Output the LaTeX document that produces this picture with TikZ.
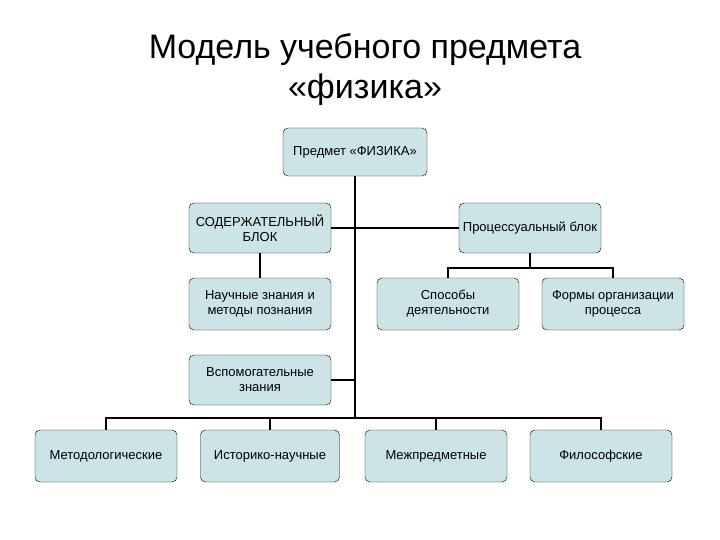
\documentclass[tikz,border=0pt]{standalone}
\usepackage{fontspec}
\setmainfont{Liberation Sans}
\begin{document}
\begin{tikzpicture}[x=1pt,y=-1pt,
 box/.style={draw=black,fill=boxc,rounded corners=5pt,minimum width=142pt,minimum height=50pt,align=center,font=\fontsize{13}{15}\selectfont,inner sep=0pt},
 ln/.style={line width=2pt}]
\definecolor{boxc}{RGB}{204,228,230}
\useasboundingbox (0,0) rectangle (720,540);
\node[font=\fontsize{34}{40}\selectfont,align=center] (t) at (365,70) {Модель учебного предмета\\«физика»};
\node[box,minimum width=144pt,minimum height=48pt] (top) at (355,152) {Предмет «ФИЗИКА»};
\node[box] (sod) at (260,228) {СОДЕРЖАТЕЛЬНЫЙ\\БЛОК};
\node[box] (pro) at (530,228) {Процессуальный блок};
\node[box,minimum height=52pt] (nau) at (260,304) {Научные знания и\\методы познания};
\node[box,minimum height=52pt] (spo) at (448,304) {Способы\\деятельности};
\node[box,minimum height=52pt] (for) at (613,304) {Формы организации\\процесса};
\node[box] (vsp) at (260,380) {Вспомогательные\\знания};
\node[box,minimum height=52pt] (met) at (106,456) {Методологические};
\node[box,minimum height=52pt,minimum width=139pt] (ist) at (270,456) {Историко-научные};
\node[box,minimum height=52pt] (mez) at (436,456) {Межпредметные};
\node[box,minimum height=52pt] (fil) at (601,456) {Философские};
\coordinate (bus) at (355,418);
\draw[ln] (top.south) -- (bus);
\draw[ln] (sod.east) -- (pro.west);
\draw[ln] (sod.south) -- (nau.north);
\draw[ln] (pro.south) -- (530,268) coordinate (pb);
\draw[ln] (spo.north) |- (pb) -| (for.north);
\draw[ln] (vsp.east) -- (vsp.east -| bus);
\draw[ln] (met.north) |- (bus) -| (fil.north);
\draw[ln] (ist.north) -- (ist.north |- bus);
\draw[ln] (mez.north) -- (mez.north |- bus);
\end{tikzpicture}
\end{document}
